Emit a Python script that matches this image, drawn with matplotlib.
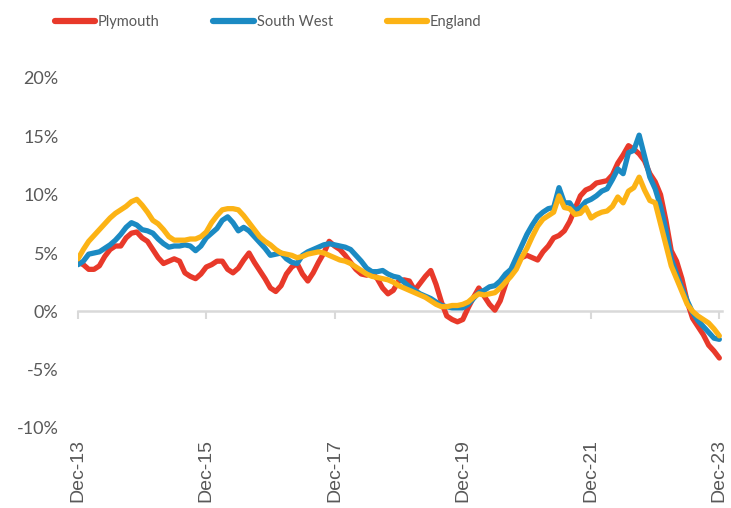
import numpy as np
import matplotlib
matplotlib.use('Agg')
import matplotlib.pyplot as plt

# monthly annual % change, Dec-13 .. Dec-23
plymouth = [4.2, 4.0, 3.6, 3.6, 3.9, 4.7, 5.3, 5.6, 5.6, 6.3, 6.7, 6.8,
            6.3, 6.0, 5.3, 4.6, 4.1, 4.3, 4.5, 4.3, 3.3, 3.0, 2.8, 3.2,
            3.8, 4.0, 4.3, 4.3, 3.6, 3.3, 3.7, 4.4, 5.0, 4.2, 3.5, 2.8,
            2.0, 1.7, 2.2, 3.2, 3.8, 4.1, 3.2, 2.6, 3.3, 4.2, 5.0, 6.0,
            5.6, 5.3, 4.8, 4.2, 3.6, 3.2, 3.1, 3.3, 2.8, 2.0, 1.5, 1.8,
            2.6, 2.7, 2.6, 1.8, 2.4, 3.0, 3.5, 2.3, 0.8, -0.4, -0.7, -0.9,
            -0.7, 0.3, 1.2, 2.0, 1.3, 0.6, 0.1, 0.9, 2.3, 3.5, 4.3, 4.6,
            4.8, 4.6, 4.4, 5.1, 5.6, 6.3, 6.5, 6.9, 7.7, 8.8, 9.9, 10.4,
            10.6, 11.0, 11.1, 11.2, 11.7, 12.7, 13.4, 14.2, 13.9, 13.5, 12.9, 11.8,
            11.1, 10.0, 7.8, 5.2, 4.3, 2.8, 0.8, -0.6, -1.3, -2.0, -2.9, -3.4,
            -4.0]
south_west = [4.0, 4.3, 4.9, 5.0, 5.1, 5.4, 5.7, 6.1, 6.6, 7.2, 7.6, 7.4,
              7.0, 6.9, 6.7, 6.2, 5.8, 5.5, 5.6, 5.6, 5.7, 5.6, 5.2, 5.6,
              6.3, 6.7, 7.1, 7.8, 8.1, 7.6, 6.9, 7.2, 6.9, 6.4, 5.9, 5.4,
              4.8, 4.9, 5.0, 4.5, 4.2, 4.1, 4.8, 5.1, 5.3, 5.5, 5.7, 5.8,
              5.7, 5.6, 5.5, 5.3, 4.8, 4.3, 3.7, 3.4, 3.4, 3.5, 3.2, 3.0,
              2.9, 2.5, 2.1, 1.8, 1.5, 1.3, 1.1, 0.8, 0.5, 0.4, 0.3, 0.3,
              0.3, 0.6, 1.1, 1.6, 1.8, 2.1, 2.2, 2.6, 3.2, 3.6, 4.6, 5.6,
              6.6, 7.4, 8.1, 8.5, 8.8, 8.9, 10.6, 9.3, 9.3, 8.6, 8.9, 9.4,
              9.6, 9.9, 10.3, 10.5, 11.3, 12.2, 11.8, 13.6, 13.8, 15.1, 13.3, 11.5,
              10.5, 9.0, 7.0, 4.5, 3.2, 2.0, 0.9, -0.1, -0.8, -1.3, -1.8, -2.3,
              -2.4]
england = [4.5, 5.3, 6.0, 6.5, 7.0, 7.5, 8.0, 8.4, 8.7, 9.0, 9.4, 9.6,
           9.1, 8.5, 7.8, 7.5, 7.0, 6.4, 6.1, 6.1, 6.1, 6.2, 6.2, 6.4,
           6.8, 7.6, 8.2, 8.7, 8.8, 8.8, 8.7, 8.2, 7.6, 7.0, 6.4, 6.0,
           5.7, 5.3, 5.0, 4.9, 4.8, 4.6, 4.7, 4.9, 5.0, 5.1, 5.0, 4.8,
           4.6, 4.4, 4.3, 4.1, 3.8, 3.5, 3.2, 3.0, 2.9, 2.8, 2.7, 2.5,
           2.2, 2.0, 1.8, 1.6, 1.4, 1.2, 0.9, 0.6, 0.4, 0.4, 0.5, 0.5,
           0.6, 0.8, 1.2, 1.5, 1.4, 1.5, 1.6, 2.0, 2.5, 3.0, 3.6, 4.6,
           5.4, 6.4, 7.3, 7.9, 8.2, 8.5, 9.9, 8.9, 8.8, 8.3, 8.4, 8.9,
           8.0, 8.3, 8.5, 8.6, 9.0, 9.8, 9.3, 10.3, 10.6, 11.5, 10.4, 9.5,
           9.3, 7.5, 5.7, 3.9, 2.8, 1.7, 0.6, 0.0, -0.4, -0.7, -1.0, -1.5,
           -2.1]

tick_pos = [0, 24, 48, 72, 96, 120]
tick_labels = ['Dec-13', 'Dec-15', 'Dec-17', 'Dec-19', 'Dec-21', 'Dec-23']
y_ticks = [-10, -5, 0, 5, 10, 15, 20]
y_labels = ['-10%', '-5%', '0%', '5%', '10%', '15%', '20%']

months = np.arange(len(england))
grey = '#595959'

fig = plt.figure(figsize=(7.31, 5.08), dpi=100)
ax = fig.add_axes([78/731, 1 - 428/508, (722 - 78)/731, (428 - 78)/508])

ax.plot(months, plymouth, color='#E8392A', lw=3.8, label='Plymouth', solid_capstyle='round')
ax.plot(months, south_west, color='#1B8AC3', lw=3.8, label='South West', solid_capstyle='round')
ax.plot(months, england, color='#FCB315', lw=3.8, label='England', solid_capstyle='round')

ax.set_xlim(0, 120.5)
ax.set_ylim(-10, 20)

for s in ['top', 'right', 'left']:
    ax.spines[s].set_visible(False)
ax.spines['bottom'].set_position(('data', 0))
ax.spines['bottom'].set_color('#d9d9d9')
ax.spines['bottom'].set_linewidth(1.8)
ax.spines['bottom'].set_zorder(0)

ax.set_xticks(tick_pos)
ax.set_xticklabels(tick_labels, rotation=90, fontsize=14, color=grey,
                   family='Liberation Sans', va='top')
ax.tick_params(axis='x', direction='out', length=6, width=1.5, color='#d9d9d9', pad=86)

ax.set_yticks(y_ticks)
ax.set_yticklabels(y_labels, fontsize=13, color=grey, family='Lato')
ax.tick_params(axis='y', length=0, pad=14)

leg = fig.legend(loc='center', bbox_to_anchor=(268/731, 1 - 22/508), ncol=3,
                 frameon=False, handlelength=2.75, handletextpad=0.2,
                 columnspacing=3.7, prop={'family': 'Lato', 'size': 10.5})
for t in leg.get_texts():
    t.set_color(grey)
for h in leg.get_lines():
    h.set_linewidth(4.5)
    h.set_solid_capstyle('round')

fig.savefig('out.png', dpi=100)
